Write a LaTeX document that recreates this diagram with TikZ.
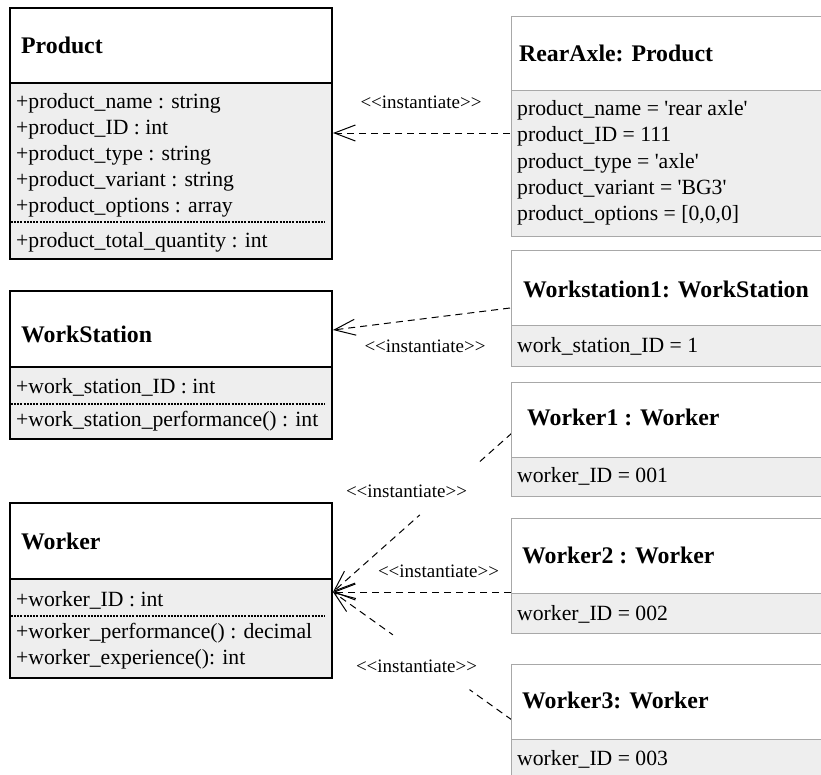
\documentclass[tikz,border=0pt]{standalone}
\usepackage{fontspec}
\newfontfamily\umlfont{Liberation Serif}
\usetikzlibrary{arrows.meta}
\definecolor{bodygray}{RGB}{238,238,238}
\definecolor{rborder}{RGB}{168,168,168}
\tikzset{
  lhead/.style={draw=black, line width=1.5pt, fill=white, minimum width=322pt, anchor=north west, inner sep=0pt, outer sep=0pt},
  lbody/.style={lhead, fill=bodygray},
  rhead/.style={draw=rborder, line width=1pt, fill=white, minimum width=330pt, anchor=north west, inner sep=0pt, outer sep=0pt},
  rbody/.style={rhead, fill=bodygray},
  ttl/.style={anchor=base west, inner sep=0pt, font=\umlfont\fontsize{23.8}{28}\selectfont\bfseries},
  txt/.style={anchor=base west, inner sep=0pt, font=\umlfont\fontsize{21.7}{26}\selectfont},
  lbl/.style={anchor=base, inner sep=0pt, font=\umlfont\fontsize{19}{22}\selectfont},
  sep/.style={draw=black, line width=1.4pt, dash pattern=on 2pt off 1.2pt},
  inst/.style={draw=black, line width=1pt, dash pattern=on 7pt off 5pt,
    -{Straight Barb[length=21pt,width=16pt,line width=1pt]}},
  cover/.style={fill=white, inner sep=0pt, minimum height=9pt}
}
\begin{document}
\begin{tikzpicture}[x=1pt,y=-1pt]
\useasboundingbox (0,0) rectangle (821,774);
\clip (0,0) rectangle (821,774);
\fill[white] (0,0) rectangle (821,774);

% ---------- connector end points ----------
\coordinate (tP) at (333,133);
\coordinate (sP) at (510,133);
\coordinate (tW) at (333,330);
\coordinate (sW) at (510,308);
\coordinate (tK) at (333,592);
\coordinate (sK1) at (512,433);
\coordinate (sK2) at (511,592);
\coordinate (sK3) at (512,720);

% ---------- connectors ----------
\draw[inst] (sP) -- (tP);
\draw[inst] (sW) -- (tW);
\draw[inst] (sK1) -- (tK);
\draw[inst] (sK2) -- (tK);
\draw[inst] (sK3) -- (tK);
\node[cover, rotate=41.6, minimum width=77pt] (gapA) at (448.5,489) {};
\node[cover, rotate=-35.6, minimum width=94pt] (gapB) at (431,662.5) {};

% ---------- labels ----------
\node[lbl] (l1) at (421,108) {<<instantiate>>};
\node[lbl] (l2) at (425,352) {<<instantiate>>};
\node[lbl] (l3) at (406.5,497) {<<instantiate>>};
\node[lbl] (l4) at (438.5,577) {<<instantiate>>};
\node[lbl] (l5) at (416.5,672) {<<instantiate>>};

% ---------- Product ----------
\node[lbody, minimum height=176pt] (productB) at (10,83) {};
\node[lhead, minimum height=75pt] (productH) at (10,8) {};
\node[ttl] (productT) at (21,53) {Product};
\node[txt] (p1) at (16,108) {+product\_name : string};
\node[txt] (p2) at (16,134) {+product\_ID : int};
\node[txt] (p3) at (16,160) {+product\_type : string};
\node[txt] (p4) at (16,186) {+product\_variant : string};
\node[txt] (p5) at (16,212) {+product\_options : array};
\draw[sep] (10.8,222) -- (325,222);
\node[txt] (p6) at (16,247) {+product\_total\_quantity : int};

% ---------- WorkStation ----------
\node[lbody, minimum height=72pt] (wsB) at (10,367) {};
\node[lhead, minimum height=76pt] (wsH) at (10,291) {};
\node[ttl] (wsT) at (21,342) {WorkStation};
\node[txt] (w1) at (16,393) {+work\_station\_ID : int};
\draw[sep] (10.8,404) -- (325,404);
\node[txt] (w2) at (16,426) {+work\_station\_performance() : int};

% ---------- Worker ----------
\node[lbody, minimum height=99pt] (wkB) at (10,579) {};
\node[lhead, minimum height=76pt] (wkH) at (10,503) {};
\node[ttl] (wkT) at (21,549) {Worker};
\node[txt] (k1) at (16,606) {+worker\_ID : int};
\draw[sep] (10.8,616) -- (325,616);
\node[txt] (k2) at (16,638) {+worker\_performance() : decimal};
\node[txt] (k3) at (16,664) {+worker\_experience(): int};

% ---------- RearAxle ----------
\node[rbody, minimum height=146pt] (rearB) at (511,90) {};
\node[rhead, minimum height=74pt] (rearH) at (511,16) {};
\node[ttl] (rearT) at (519,61) {RearAxle: Product};
\node[txt] (r1) at (517,115) {product\_name = 'rear axle'};
\node[txt] (r2) at (517,141) {product\_ID = 111};
\node[txt] (r3) at (517,168) {product\_type = 'axle'};
\node[txt] (r4) at (517,194) {product\_variant = 'BG3'};
\node[txt] (r5) at (517,220) {product\_options = [0,0,0]};

% ---------- Workstation1 ----------
\node[rbody, minimum height=41pt] (ws1B) at (511,325) {};
\node[rhead, minimum height=75pt] (ws1H) at (511,250) {};
\node[ttl] (ws1T) at (523,297) {Workstation1: WorkStation};
\node[txt] (ws1a) at (517,352) {work\_station\_ID = 1};

% ---------- Worker1 ----------
\node[rbody, minimum height=39pt] (k1B) at (511,457) {};
\node[rhead, minimum height=75pt] (k1H) at (511,382) {};
\node[ttl] (k1T) at (527,425) {Worker1 : Worker};
\node[txt] (k1a) at (517,482) {worker\_ID = 001};

% ---------- Worker2 ----------
\node[rbody, minimum height=40pt] (k2B) at (511,593) {};
\node[rhead, minimum height=75pt] (k2H) at (511,518) {};
\node[ttl] (k2T) at (522,563) {Worker2 : Worker};
\node[txt] (k2a) at (517,620) {worker\_ID = 002};

% ---------- Worker3 ----------
\node[rbody, minimum height=60pt] (k3B) at (511,739) {};
\node[rhead, minimum height=75pt] (k3H) at (511,664) {};
\node[ttl] (k3T) at (522,708) {Worker3: Worker};
\node[txt] (k3a) at (517,765) {worker\_ID = 003};
\end{tikzpicture}
\end{document}
